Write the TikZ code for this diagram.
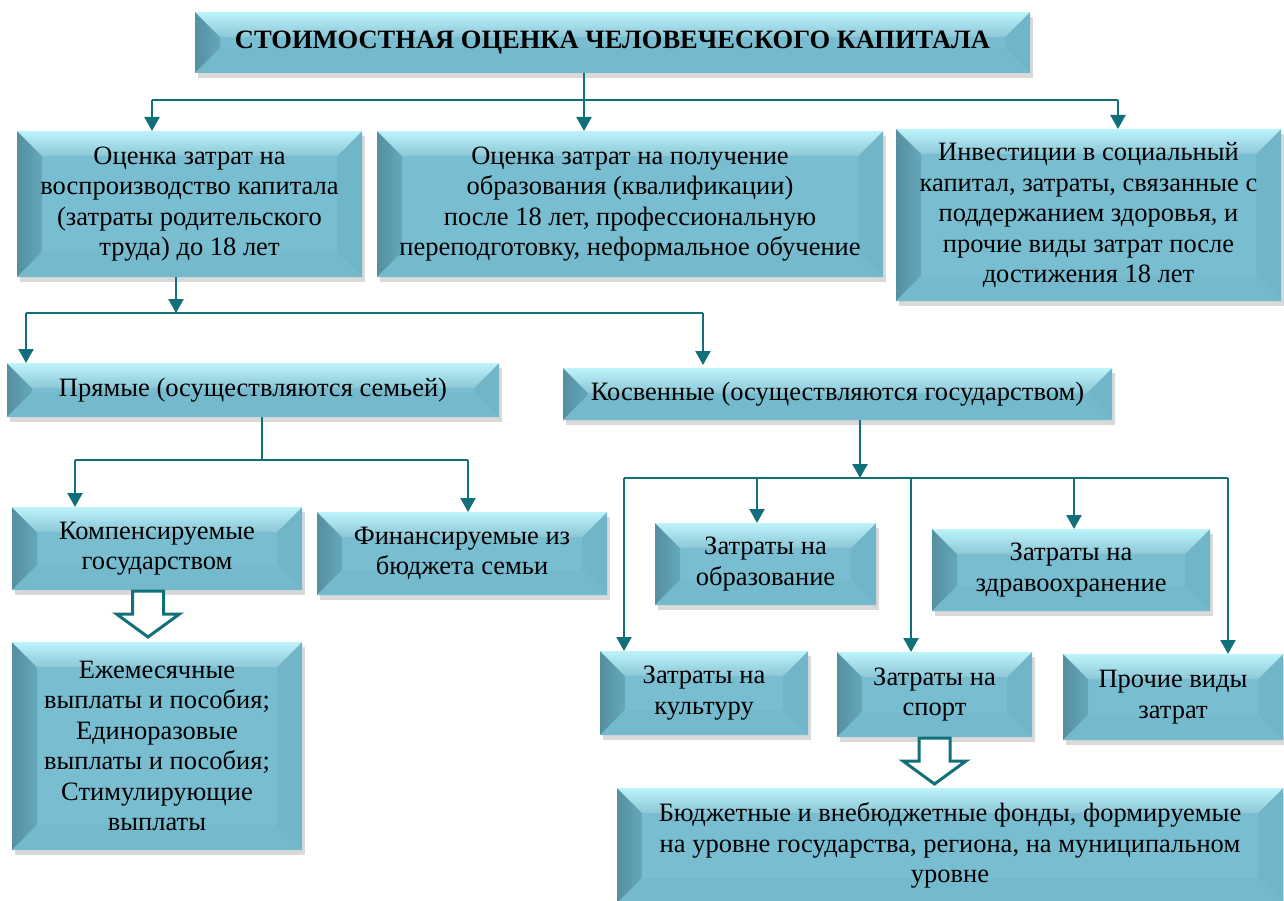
\documentclass[tikz,border=0pt]{standalone}
\usepackage{fontspec}
\setmainfont{Liberation Serif}
\usetikzlibrary{arrows.meta,shadows}
\definecolor{face}{HTML}{79BDD0}
\definecolor{bvtop}{HTML}{BDF3FA}
\definecolor{bvleft}{HTML}{64A8BB}
\definecolor{bvright}{HTML}{71B5C8}
\definecolor{bvbot}{HTML}{74B9CC}
\definecolor{arrcol}{HTML}{12707A}
\newcommand{\bv}{25pt}

\begin{document}
\begin{tikzpicture}
[x=1pt,y=-1pt,
 every node/.style={inner sep=0pt,outer sep=0pt,align=center,font=\fontsize{26.5}{30.5}\selectfont},
 box/.style={fill=face,drop shadow={shadow xshift=3pt,shadow yshift=-5pt,opacity=0.3},
   path picture={
     \path (path picture bounding box.north west) coordinate (nw)
           (path picture bounding box.north east) coordinate (ne)
           (path picture bounding box.south west) coordinate (sw)
           (path picture bounding box.south east) coordinate (se);
     \shade[left color=bvleft!85!black,right color=bvleft]
                    (nw) -- ([xshift=\bv,yshift=-\bv]nw) -- ([xshift=\bv,yshift=\bv]sw) -- (sw) -- cycle;
     \fill[bvright] (ne) -- ([xshift=-\bv,yshift=-\bv]ne) -- ([xshift=-\bv,yshift=\bv]se) -- (se) -- cycle;
     \fill[bvbot]   (sw) -- ([xshift=\bv,yshift=\bv]sw) -- ([xshift=-\bv,yshift=\bv]se) -- (se) -- cycle;
     \shade[top color=bvtop,bottom color=face!85!white]
                    (nw) -- (ne) -- ([xshift=-\bv,yshift=-\bv]ne) -- ([xshift=\bv,yshift=-\bv]nw) -- cycle;
   }},
 wh/.style 2 args={minimum width=#1pt,minimum height=#2pt},
 line/.style={draw=arrcol,line width=2.4pt},
 arr/.style={line,-{Triangle[width=15pt,length=14pt]}},
 hollow/.style={draw=arrcol,line width=3pt,fill=white,line join=miter}]
\useasboundingbox (0,0) rectangle (1284,901);

\node[box] (title) [wh={835}{61},font=\fontsize{26.5}{30.5}\selectfont\bfseries] at (612.5,42.5)
  {СТОИМОСТНАЯ ОЦЕНКА ЧЕЛОВЕЧЕСКОГО КАПИТАЛА};
\node[box] (bA) [wh={345}{146}] at (189.5,204)
  {Оценка затрат на\\воспроизводство капитала\\(затраты родительского\\труда) до 18 лет};
\node[box] (bB) [wh={506}{146}] at (630,204)
  {Оценка затрат на получение\\образования (квалификации)\\после 18 лет, профессиональную\\переподготовку, неформальное обучение};
\node[box] (bC) [wh={385}{172}] at (1088.5,215)
  {Инвестиции в социальный\\капитал, затраты, связанные с\\поддержанием здоровья, и\\прочие виды затрат после\\достижения 18 лет};
\node[box] (pryam) [wh={492}{54}] at (253,390) {Прямые (осуществляются семьей)};
\node[box] (kosv) [wh={549}{52}] at (837.5,394) {Косвенные (осуществляются государством)};
\node[box] (komp) [wh={290}{83}] at (157,548.5) {Компенсируемые\\государством};
\node[box] (finans) [wh={290}{83}] at (462,553.5) {Финансируемые из\\бюджета семьи};
\node[box] (ezhem) [wh={290}{208}] at (157,746)
  {Ежемесячные\\выплаты и пособия;\\Единоразовые\\выплаты и пособия;\\Стимулирующие\\выплаты};
\node[box] (obrz) [wh={221}{82}] at (765.5,564) {Затраты на\\образование};
\node[box] (zdrav) [wh={278}{82}] at (1071,570) {Затраты на\\здравоохранение};
\node[box] (kult) [wh={208}{84}] at (704,693) {Затраты на\\культуру};
\node[box] (sport) [wh={195}{85}] at (934.5,694.5) {Затраты на\\спорт};
\node[box] (proch) [wh={220}{86}] at (1173,697) {Прочие виды\\затрат};
\node[box] (budget) [wh={666}{115}] at (950,845.5)
  {Бюджетные и внебюджетные фонды, формируемые\\на уровне государства, региона, на муниципальном\\уровне};

% bus under the title
\coordinate (t1) at (152,100);
\coordinate (t2) at (584,100);
\coordinate (t3) at (1118,100);
\path (title.south -| t2) edge[line] (t2);
\path (t1) edge[line] (t3);
\path (t1) edge[arr] (t1 |- bA.north);
\path (t2) edge[arr] (t2 |- bB.north);
\path (t3) edge[arr] (t3 |- bC.north);

% direct and indirect
\coordinate (a1) at (26,313);
\coordinate (a2) at (176,313);
\coordinate (a3) at (703,313);
\path (bA.south -| a2) edge[arr] (a2);
\path (a1) edge[line] (a3);
\path (a1) edge[arr] (a1 |- pryam.north);
\path (a3) edge[arr] ([yshift=3pt]a3 |- kosv.north);

% paid by the family
\coordinate (p1) at (75,460);
\coordinate (p2) at (262,460);
\coordinate (p3) at (468,460);
\path (pryam.south -| p2) edge[line] (p2);
\path (p1) edge[line] (p3);
\path (p1) edge[arr] (p1 |- komp.north);
\path (p3) edge[arr] (p3 |- finans.north);

% paid by the state
\coordinate (k1) at (624,478);
\coordinate (k2) at (757,478);
\coordinate (k3) at (860,478);
\coordinate (k4) at (911,478);
\coordinate (k5) at (1074,478);
\coordinate (k6) at (1228,478);
\path (kosv.south -| k3) edge[arr] (k3);
\path (k1) edge[line] (k6);
\path (k1) edge[arr] (k1 |- kult.north);
\path (k2) edge[arr] (k2 |- obrz.north);
\path (k4) edge[arr] (k4 |- sport.north);
\path (k5) edge[arr] (k5 |- zdrav.north);
\path (k6) edge[arr] (k6 |- proch.north);

% hollow arrows
\coordinate (h1) at ([xshift=-9pt,yshift=-1pt]komp.south);
\coordinate (h2) at ([yshift=-1pt]sport.south);
\draw[hollow] ([xshift=-15.5pt]h1) -- ++(31,0) -- ++(0,23) -- ++(16,0) -- ++(-31.5,23) -- ++(-31.5,-23) -- ++(16,0) -- cycle;
\draw[hollow] ([xshift=-15.5pt]h2) -- ++(31,0) -- ++(0,23) -- ++(16,0) -- ++(-31.5,23) -- ++(-31.5,-23) -- ++(16,0) -- cycle;
\end{tikzpicture}
\end{document}
